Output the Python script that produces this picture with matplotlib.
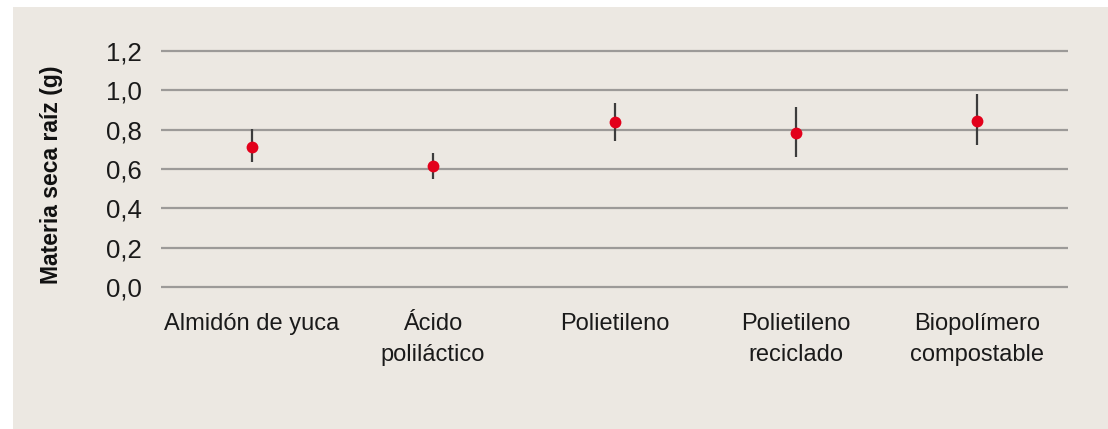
import matplotlib
matplotlib.use("Agg")
import matplotlib.pyplot as plt
from matplotlib.patches import Rectangle
import numpy as np

categories = ["Almidón de yuca", "Ácido\npoliláctico", "Polietileno",
              "Polietileno\nreciclado", "Biopolímero\ncompostable"]
means = [0.713, 0.614, 0.841, 0.785, 0.846]
upper = [0.805, 0.681, 0.934, 0.914, 0.981]
lower = [0.634, 0.551, 0.741, 0.660, 0.721]
yticks = [0.0, 0.2, 0.4, 0.6, 0.8, 1.0, 1.2]
ytick_labels = ["0,0", "0,2", "0,4", "0,6", "0,8", "1,0", "1,2"]

plt.rcParams['font.family'] = ['Liberation Sans Narrow', 'Liberation Sans', 'DejaVu Sans']

W, H = 1108, 429
fig = plt.figure(figsize=(W / 100, H / 100), dpi=100)
fig.patch.set_facecolor("white")
bg = "#ece8e2"
fig.patches.append(Rectangle((13 / W, 0), 1 - 13 / W, 1 - 7 / H,
                             transform=fig.transFigure, facecolor=bg,
                             edgecolor="none", zorder=-10))

# axes: y from 0 (px 287) to 1.2 (px 51), with small margins
scale = (287 - 51) / 1.2
ymin, ymax = -0.01, 1.21
bot_px = 287 + 0.01 * scale
top_px = 51 - 0.01 * scale
ax = fig.add_axes([161 / W, 1 - bot_px / H, (1068 - 161) / W, (bot_px - top_px) / H])
ax.set_facecolor("none")
ax.set_zorder(5)

x = np.arange(len(categories))
m = np.array(means)
yerr = np.vstack([m - np.array(lower), np.array(upper) - m])

ax.set_ylim(ymin, ymax)
ax.set_xlim(-0.5, len(categories) - 0.5)
for yt in yticks:
    ax.axhline(yt, color="#9c9a98", lw=1.6, zorder=1)

ax.errorbar(x, m, yerr=yerr, fmt="none", ecolor="#3c3c3c", elinewidth=1.6,
            capsize=0, zorder=2)
ax.plot(x, m, "o", color="#e3001b", markersize=8.5, markeredgewidth=0, zorder=3)

for s in ax.spines.values():
    s.set_visible(False)
ax.set_yticks(yticks)
ax.set_yticklabels(ytick_labels, fontsize=18.5, color="#1a1a1a")
ax.set_xticks(x)
ax.set_xticklabels(categories, fontsize=17, color="#1a1a1a", linespacing=1.55,
                   va="top")
ax.tick_params(axis="y", length=0, pad=14)
ax.tick_params(axis="x", length=0, pad=17)

fig.text(52 / W, 1 - 175 / H, "Materia seca raíz (g)", rotation=90,
         ha="center", va="center", fontsize=16.5, fontweight="bold",
         color="#111111", zorder=6)

fig.savefig("out.png", dpi=100, facecolor="white")
